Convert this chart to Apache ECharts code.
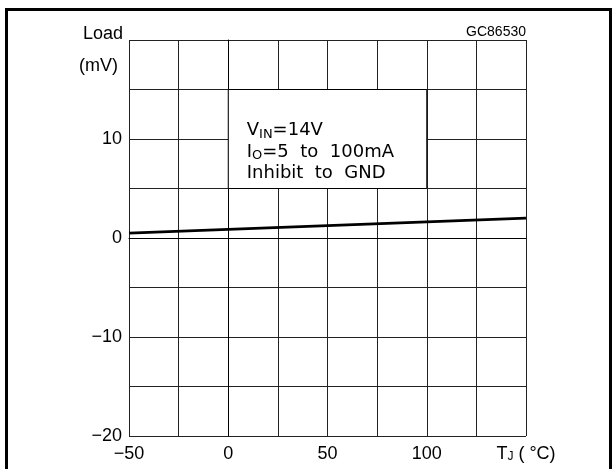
<!DOCTYPE html>
<html><head><meta charset="utf-8">
<script src="https://cdn.jsdelivr.net/npm/echarts@6/dist/echarts.min.js"></script>
<style>html,body{margin:0;padding:0;background:#fff}#c{width:614px;height:469px}</style>
</head><body><div id="c"></div>
<script>
// ---- data ----
const tempC = [-50, 150];
const loadMV = [0.5, 2.0];
const xLabelTicks = [-50, 0, 50, 100];
const yLabelTicks = [-20, -10, 0, 10];
const yTitle = ['Load', '(mV)'];
const figTitle = 'Figure 9. Load Regulation vs Temperature';
const codeText = 'GC86530';
const noteLines = ['{n|V}{s|IN}{n|=14V}', '{n|I}{s|O}{n|=5  to  100mA}', '{n|Inhibit  to  GND}'];
const noteBox = [[0, 5], [100, 15]];

const fmtNum = v => (v < 0 ? '\u2212' + Math.abs(v) : String(v));
const chart = echarts.init(document.getElementById('c'));
const axisFont = { fontFamily: 'Liberation Sans', fontSize: 18, color: '#000' };

chart.setOption({
  animation: false,
  backgroundColor: '#fff',
  grid: { left: 129, top: 40, width: 397, height: 396 },
  xAxis: {
    type: 'value', min: -50, max: 150, interval: 25,
    axisLine: { show: true, lineStyle: { color: '#000', width: 1 } },
    axisTick: { show: false },
    splitLine: { show: true, lineStyle: { color: '#222', width: 1 } },
    axisLabel: Object.assign({}, axisFont, {
      margin: 9,
      formatter: v => xLabelTicks.includes(v) ? fmtNum(v) : (v === 150 ? '{n|T}{s|J}{n| ( °C)}' : ''),
      rich: {
        n: { fontFamily: 'Liberation Sans', fontSize: 18, color: '#000' },
        s: { fontFamily: 'Liberation Sans', fontSize: 12, color: '#000', padding: [6, 0, 0, 0] }
      }
    })
  },
  yAxis: {
    type: 'value', min: -20, max: 20, interval: 5,
    axisLine: { show: true, lineStyle: { color: '#000', width: 1 } },
    axisTick: { show: false },
    splitLine: { show: true, lineStyle: { color: '#222', width: 1 } },
    axisLabel: Object.assign({}, axisFont, {
      margin: 7,
      formatter: v => yLabelTicks.includes(v) ? fmtNum(v) : ''
    })
  },
  series: [{
    type: 'line',
    data: tempC.map((t, i) => [t, loadMV[i]]),
    showSymbol: false,
    lineStyle: { color: '#000', width: 2.8 },
    z: 5,
    markArea: {
      silent: true,
      itemStyle: { color: '#fff', opacity: 1, borderColor: '#000', borderWidth: 1 },
      label: {
        show: true,
        position: [19, 31],
        formatter: noteLines.join('\n'),
        lineHeight: 21.5,
        rich: {
          n: { fontFamily: 'DejaVu Sans', fontSize: 18, color: '#000', lineHeight: 21.5 },
          s: { fontFamily: 'DejaVu Sans', fontSize: 13, color: '#000', lineHeight: 21.5, padding: [7, 0, 0, 0] }
        }
      },
      data: [[{ coord: noteBox[0] }, { coord: noteBox[1] }]]
    }
  }],
  graphic: [
    { type: 'rect', shape: { x: 6.5, y: 9.5, width: 604, height: 470 },
      style: { fill: 'none', stroke: '#000', lineWidth: 3 }, z: 10 },
    { type: 'text', x: 10, y: -11, style: { text: figTitle, fontFamily: 'Liberation Sans', fontWeight: 'bold', fontSize: 21, fill: '#000', verticalAlign: 'middle' } },
    { type: 'text', x: 123, y: 34, style: { text: yTitle[0], fontFamily: 'Liberation Sans', fontSize: 18, fill: '#000', align: 'right', verticalAlign: 'middle' } },
    { type: 'text', x: 118, y: 66, style: { text: yTitle[1], fontFamily: 'Liberation Sans', fontSize: 18, fill: '#000', align: 'right', verticalAlign: 'middle' } },
    { type: 'text', x: 526, y: 32, style: { text: codeText, fontFamily: 'Liberation Sans', fontSize: 14, fill: '#000', align: 'right', verticalAlign: 'middle' } }
  ]
});
</script></body></html>
